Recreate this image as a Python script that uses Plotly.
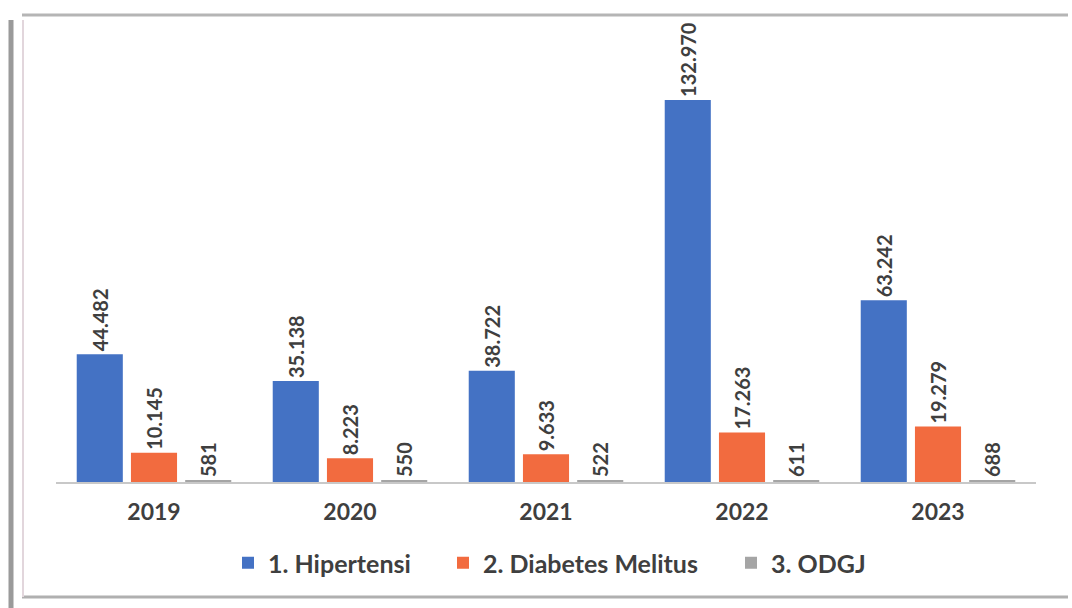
import plotly.graph_objects as go

# ----------------------------------------------------------
# DATA
# ----------------------------------------------------------

years = ["2019", "2020", "2021", "2022", "2023"]

hipertensi = [44482, 35138, 38722, 132970, 63242]
diabetes = [10145, 8223, 9633, 17263, 19279]
odgj = [581, 550, 522, 611, 688]

series_names = ["1. Hipertensi", "2. Diabetes Melitus", "3. ODGJ"]
series_colors = ["#4472C4", "#F26B3F", "#A5A5A5"]

TEXT = "#3f3f3f"
FONT = "Lato"

# plot area in pixels (used for frame / legend placement only)
W, H = 1072, 608
L, R, T, B = 56, 36, 30, 126


def px_x(x):
    return (x - L) / (W - L - R)


def px_y(y):
    return (H - B - y) / (H - T - B)


# ----------------------------------------------------------
# BARS  (one legend per series so entries can be spaced out)
# ----------------------------------------------------------

fig = go.Figure()

legend_ids = ["legend", "legend2", "legend3"]
legend_left = [228, 443, 731]

for name, values, color, lg in zip(series_names, [hipertensi, diabetes, odgj],
                                   series_colors, legend_ids):
    fig.add_trace(
        go.Bar(
            x=years,
            y=values,
            name=name,
            legend=lg,
            marker=dict(color=color, line_width=0),
            texttemplate="<b>%{y:,}</b>",
            textposition="outside",
            textangle=-90,
            constraintext="none",
            textfont=dict(family=FONT, size=20, color=TEXT),
            cliponaxis=False,
        )
    )

# ----------------------------------------------------------
# FRAME (scanned page border)
# ----------------------------------------------------------

frame = dict(type="line", xref="paper", yref="paper", layer="below")

fig.add_shape(**frame, x0=px_x(22), x1=px_x(1068), y0=px_y(15), y1=px_y(15),
              line=dict(color="#b5b5b5", width=3))
fig.add_shape(**frame, x0=px_x(22), x1=px_x(1068), y0=px_y(597), y1=px_y(597),
              line=dict(color="#b0b0b0", width=3))
fig.add_shape(**frame, x0=px_x(23), x1=px_x(23), y0=px_y(20), y1=px_y(597),
              line=dict(color="#e2d6dc", width=2))
fig.add_shape(**frame, x0=px_x(11), x1=px_x(11), y0=px_y(20), y1=px_y(608),
              line=dict(color="#9a9a9a", width=5))

# ----------------------------------------------------------
# LAYOUT
# ----------------------------------------------------------

legend_style = dict(
    orientation="h",
    xanchor="left",
    y=px_y(563),
    yanchor="middle",
    font=dict(family=FONT, size=25, color=TEXT, weight="bold"),
    itemwidth=30,
    bgcolor="rgba(0,0,0,0)",
)

fig.update_layout(
    width=W,
    height=H,
    barmode="group",
    bargap=0.17,
    bargroupgap=0.15,
    separators=",.",
    paper_bgcolor="white",
    plot_bgcolor="white",
    margin=dict(l=L, r=R, t=T, b=B, autoexpand=False),
    font=dict(family=FONT, color=TEXT),
    xaxis=dict(
        showgrid=False,
        showline=True,
        linecolor="#c8c8c8",
        linewidth=1.5,
        ticks="",
        ticklabelstandoff=9,
        tickfont=dict(family=FONT, size=23, color=TEXT, weight="bold"),
    ),
    yaxis=dict(
        range=[0, 157300],
        visible=False,
    ),
    legend=dict(legend_style, x=px_x(legend_left[0])),
    legend2=dict(legend_style, x=px_x(legend_left[1])),
    legend3=dict(legend_style, x=px_x(legend_left[2])),
    showlegend=True,
)

fig.write_html(
    "out.html",
    config={"displayModeBar": False},
    post_script="document.body.style.margin='0';",
)
